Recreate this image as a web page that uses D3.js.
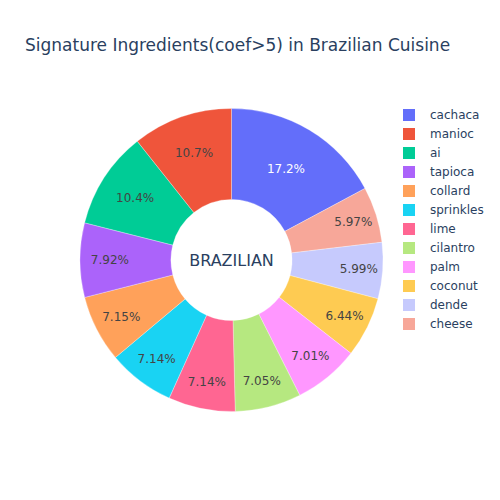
<!DOCTYPE html>
<html>
<head>
<meta charset="utf-8">
<script src="https://d3js.org/d3.v7.min.js"></script>
<style>
  html, body { margin: 0; padding: 0; background: #fff; }
  svg { display: block; font-family: "DejaVu Sans", Verdana, sans-serif; }
</style>
</head>
<body>
<svg id="chart" width="500" height="500"></svg>
<script>
// Data (legend order, descending share in %)
const ingredients = ["cachaca", "manioc", "ai", "tapioca", "collard", "sprinkles", "lime", "cilantro", "palm", "coconut", "dende", "cheese"];
const shares = [17.17, 10.68, 10.38, 7.92, 7.15, 7.14, 7.14, 7.05, 7.01, 6.44, 5.99, 5.97];
const palette = ["#636efa", "#EF553B", "#00cc96", "#ab63fa", "#FFA15A", "#19d3f3", "#FF6692", "#B6E880", "#FF97FF", "#FECB52", "#c6cafd", "#f7a799"];
const titleText = "Signature Ingredients(coef>5) in Brazilian Cuisine";
const centerText = "BRAZILIAN";

const svg = d3.select("#chart");
const cx = 231.5, cy = 260, R = 151.5, hole = 0.4;

const color = d3.scaleOrdinal().domain(ingredients).range(palette);
const data = ingredients.map((k, i) => ({ key: k, value: shares[i] }));
const total = d3.sum(shares);

// Plotly-like layout: first slice ends at 12 o'clock, the rest follow counterclockwise
const order = [data[0]].concat(data.slice(1).reverse());
const pie = d3.pie().sort(null).value(d => d.value).startAngle(0).endAngle(2 * Math.PI);
const arcs = pie(order);

const arc = d3.arc().innerRadius(R * hole).outerRadius(R);

const g = svg.append("g").attr("transform", `translate(${cx},${cy})`);
g.selectAll("path.slice").data(arcs).enter().append("path")
  .attr("class", "slice")
  .attr("d", arc)
  .attr("fill", d => color(d.data.key))
  .attr("stroke", "#ffffff")
  .attr("stroke-width", 0.3);

function isLight(hex) {
  const c = d3.rgb(hex);
  return (c.r * 299 + c.g * 587 + c.b * 114) / 1000 >= 128;
}
const pct = d3.format(".3~r");
const ring = 1 - hole;
g.selectAll("text.pct").data(arcs).enter().append("text")
  .attr("class", "pct")
  .attr("transform", d => {
    const half = (d.endAngle - d.startAngle) / 2;
    const mid = (d.endAngle + d.startAngle) / 2;
    const rIns = Math.min(1 / (1 + 1 / Math.sin(half)), ring / 2);
    const rc = R * (1 - rIns);
    return `translate(${rc * Math.sin(mid)},${-rc * Math.cos(mid)})`;
  })
  .attr("text-anchor", "middle")
  .attr("dy", "0.35em")
  .attr("font-size", 12)
  .attr("fill", d => isLight(color(d.data.key)) ? "#444" : "#ffffff")
  .text(d => pct(d.data.value / total * 100) + "%");

// Center annotation
svg.append("text")
  .attr("x", cx).attr("y", cy)
  .attr("text-anchor", "middle")
  .attr("dy", "0.35em")
  .attr("font-size", 16)
  .attr("fill", "#2a3f5f")
  .text(centerText);

// Title
svg.append("text")
  .attr("x", 25).attr("y", 51)
  .attr("font-size", 17)
  .attr("fill", "#2a3f5f")
  .text(titleText);

// Legend
const legendY = d3.scalePoint().domain(ingredients).range([115, 324]);
const leg = svg.append("g");
const items = leg.selectAll("g").data(data).enter().append("g")
  .attr("transform", d => `translate(409,${legendY(d.key)})`);
items.append("rect")
  .attr("x", -6).attr("y", -6).attr("width", 12).attr("height", 12)
  .attr("fill", d => color(d.key));
items.append("text")
  .attr("x", 21).attr("dy", "0.35em")
  .attr("font-size", 12)
  .attr("fill", "#2a3f5f")
  .text(d => d.key);
</script>
</body>
</html>
